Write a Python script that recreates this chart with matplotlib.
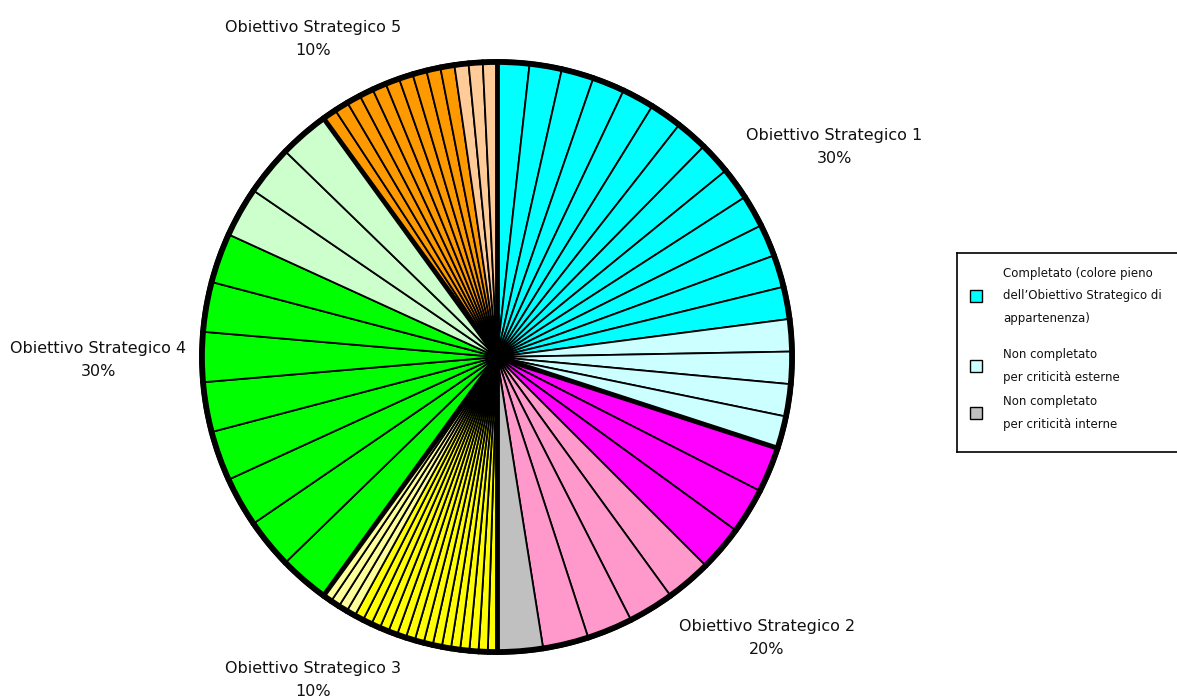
import numpy as np
import matplotlib
matplotlib.use("Agg")
import matplotlib.pyplot as plt
from matplotlib.patches import Circle, Rectangle

plt.rcParams['font.family'] = ['DejaVu Sans']

# quote di ciascun obiettivo strategico (%)
objectives = ["Obiettivo Strategico 1", "Obiettivo Strategico 2", "Obiettivo Strategico 3",
              "Obiettivo Strategico 4", "Obiettivo Strategico 5"]
shares = [30, 20, 10, 30, 10]

# numero di azioni per stato, per obiettivo
completed = [13, 3, 16, 8, 10]
external = [4, 4, 4, 3, 3]
internal = [0, 1, 0, 0, 0]

full_colors = ["#00FFFF", "#FF00FF", "#FFFF00", "#00FF00", "#FF9900"]
light_colors = ["#CCFFFF", "#FF99CC", "#FFFF99", "#CCFFCC", "#FFCC99"]
gray = "#C0C0C0"

legend_labels = ["Completato (colore pieno\ndell\u2019Obiettivo Strategico di\nappartenenza)",
                 "Non completato\nper criticit\u00e0 esterne",
                 "Non completato\nper criticit\u00e0 interne"]

# una fetta per ogni azione, tutte uguali all'interno dell'obiettivo
sizes, colors = [], []
for share, c, e, i, fc, lc in zip(shares, completed, external, internal, full_colors, light_colors):
    n = c + e + i
    for k in range(n):
        sizes.append(share / n)
        colors.append(fc if k < c else (lc if k < c + e else gray))

W, H = 1177, 700
fig = plt.figure(figsize=(W / 100, H / 100), dpi=100)
cx, cy, R = 497, 357, 297
ax = fig.add_axes([(cx - R) / W, (H - cy - R) / H, 2 * R / W, 2 * R / H])

ax.pie(sizes, colors=colors, startangle=90, counterclock=False, radius=1,
       wedgeprops=dict(edgecolor="black", linewidth=1.3))
ax.set_xlim(-1, 1)
ax.set_ylim(-1, 1)
ax.axis("off")

# separatori spessi fra gli obiettivi
bounds = np.cumsum([0] + shares[:-1])
for b in bounds:
    ang = np.deg2rad(90 - b * 3.6)
    ax.plot([0, np.cos(ang)], [0, np.sin(ang)], color="black", lw=3.5,
            solid_capstyle="butt")
ax.add_patch(Circle((0, 0), 0.993, fill=False, edgecolor="black", lw=4, clip_on=False))
ax.plot(0, 0, "o", color="black", ms=8)

# etichette degli obiettivi
label_pos = [(834, 147), (767, 638), (313, 680), (98, 360), (313, 39)]
for name, share, (px, py) in zip(objectives, shares, label_pos):
    fig.text(px / W, 1 - py / H, f"{name}\n{share}%", ha="center", va="center",
             fontsize=11.5, linespacing=1.6, color="#111111")

# legenda
lx, ly, lw_, lh = 957, 253, 222, 199
lax = fig.add_axes([lx / W, (H - ly - lh) / H, lw_ / W, lh / H])
lax.set_xlim(0, lw_)
lax.set_ylim(lh, 0)
lax.set_xticks([])
lax.set_yticks([])
for s in lax.spines.values():
    s.set_linewidth(1.2)
    s.set_color("black")
legend_colors = [full_colors[0], light_colors[0], gray]
rows = [43, 113, 160]
for lab, col, ry in zip(legend_labels, legend_colors, rows):
    lax.add_patch(Rectangle((13, ry - 6), 12, 12, facecolor=col, edgecolor="black", lw=1))
    lax.text(46, ry, lab, ha="left", va="center", fontsize=8.5, linespacing=1.95,
             color="#111111")

fig.savefig("out.png", dpi=100)
